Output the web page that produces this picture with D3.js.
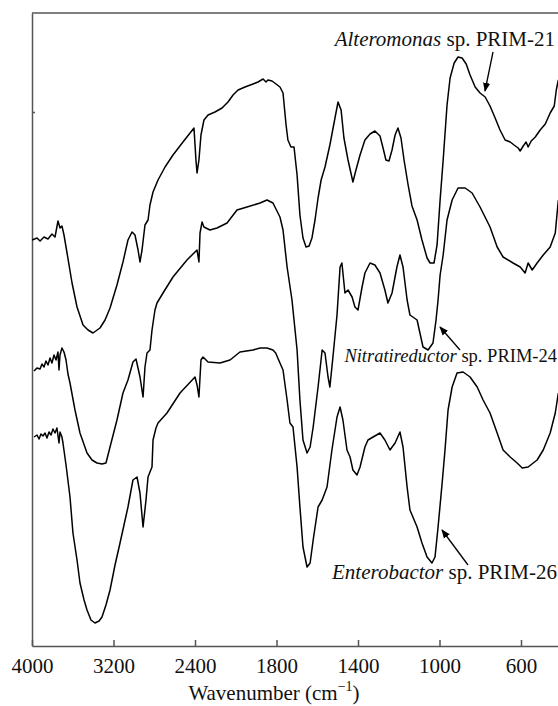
<!DOCTYPE html>
<html>
<head>
<meta charset="utf-8">
<script src="https://cdn.jsdelivr.net/npm/d3@7"></script>
<style>
  body { margin: 0; background: #fff; }
  svg { display: block; }
  svg text { font-family: "Liberation Serif", "Times New Roman", "DejaVu Serif", serif; }
</style>
</head>
<body>
<div id="chart"></div>
<script>
// wavenumber (cm-1) tick labels of the bottom axis
const xTicks = [4000, 3200, 2400, 1800, 1400, 1000, 600];

// transmittance in arbitrary units (offset traces)
const alteromonas = [
  [4000,406],[3951,408],[3921,405],[3882,409],[3843,407],[3804,412],[3774,409],[3745,425],
  [3725,418],[3706,420],[3686,411],[3656,393],[3607,363],[3558,339],[3499,321],[3450,316],
  [3401,313],[3333,318],[3283,326],[3234,338],[3166,361],[3107,384],[3058,406],[3018,414],
  [2989,411],[2959,396],[2940,384],[2920,396],[2891,421],[2861,426],[2842,441],[2812,454],
  [2763,466],[2694,479],[2616,491],[2518,504],[2410,518],[2393,486],[2385,473],[2371,486],
  [2356,511],[2334,526],[2304,531],[2253,534],[2201,538],[2157,544],[2120,551],[2083,556],
  [2032,559],[1973,562],[1936,564],[1899,567],[1877,564],[1863,566],[1833,565],[1803,562],
  [1783,559],[1768,553],[1753,521],[1744,506],[1729,499],[1714,499],[1699,471],[1685,431],
  [1670,408],[1655,399],[1640,400],[1626,408],[1611,426],[1596,448],[1581,466],[1562,479],
  [1538,501],[1513,528],[1498,544],[1483,536],[1469,508],[1449,486],[1425,464],[1410,476],
  [1390,491],[1366,506],[1341,512],[1317,515],[1292,510],[1277,498],[1263,486],[1248,485],
  [1233,496],[1218,511],[1204,518],[1189,508],[1174,486],[1154,461],[1135,440],[1110,426],
  [1086,406],[1061,388],[1046,383],[1027,383],[1012,401],[997,446],[982,486],[963,541],
  [948,568],[928,583],[909,589],[889,588],[869,582],[850,571],[825,559],[801,553],
  [776,549],[752,540],[727,528],[703,516],[678,506],[653,504],[634,501],[614,498],
  [604,495],[589,500],[575,504],[565,499],[550,505],[530,509],[506,516],[481,522],
  [457,533],[437,540],[427,556],[417,566]
];

const nitratireductor = [
  [3980,275],[3951,278],[3921,277],[3902,282],[3882,279],[3863,285],[3843,281],[3823,288],
  [3804,283],[3784,291],[3764,286],[3745,294],[3735,276],[3725,291],[3706,298],[3686,294],
  [3666,286],[3647,272],[3627,263],[3578,236],[3529,213],[3460,193],[3411,186],[3362,183],
  [3313,182],[3274,183],[3234,199],[3166,226],[3107,253],[3058,266],[3009,284],[2979,287],
  [2940,269],[2910,249],[2891,279],[2871,293],[2842,296],[2822,316],[2793,336],[2773,343],
  [2714,353],[2616,369],[2479,386],[2385,396],[2371,384],[2363,413],[2348,424],[2334,419],
  [2290,416],[2238,418],[2164,423],[2091,436],[2017,439],[1921,443],[1870,446],[1826,443],
  [1783,429],[1768,416],[1748,379],[1724,346],[1709,316],[1699,296],[1685,246],[1670,206],
  [1650,193],[1635,199],[1620,219],[1596,259],[1576,296],[1562,293],[1547,269],[1538,259],
  [1523,289],[1503,331],[1488,379],[1479,383],[1464,353],[1449,356],[1429,349],[1415,339],
  [1400,336],[1380,359],[1366,373],[1341,383],[1317,381],[1292,373],[1268,356],[1253,343],
  [1233,353],[1209,379],[1194,391],[1179,379],[1159,346],[1145,331],[1110,326],[1096,313],
  [1081,299],[1056,296],[1032,303],[1017,326],[1007,346],[997,371],[982,391],[963,426],
  [938,446],[909,458],[874,458],[840,453],[801,439],[752,419],[717,399],[688,389],
  [639,383],[604,379],[580,373],[565,383],[545,376],[521,383],[491,391],[457,399],
  [432,413],[417,446]
];

const enterobactor = [
  [3980,209],[3951,211],[3931,207],[3912,212],[3892,210],[3872,213],[3853,208],[3833,214],
  [3813,211],[3794,217],[3774,213],[3755,218],[3735,203],[3725,214],[3706,209],[3696,203],
  [3666,181],[3627,149],[3598,113],[3558,86],[3529,63],[3489,46],[3460,36],[3421,26],
  [3382,23],[3342,25],[3313,29],[3274,41],[3234,56],[3185,81],[3136,103],[3097,121],
  [3058,139],[3009,166],[2969,169],[2940,153],[2910,119],[2881,146],[2861,169],[2842,174],
  [2822,179],[2812,206],[2783,218],[2763,223],[2675,233],[2547,253],[2400,269],[2385,261],
  [2371,249],[2356,286],[2341,289],[2304,284],[2216,283],[2142,286],[2069,294],[1973,296],
  [1921,298],[1870,298],[1826,296],[1806,293],[1783,283],[1768,276],[1748,246],[1734,223],
  [1719,219],[1699,179],[1685,139],[1670,99],[1650,79],[1635,83],[1620,106],[1596,139],
  [1576,146],[1552,159],[1528,196],[1503,229],[1488,239],[1474,226],[1454,196],[1439,189],
  [1425,176],[1405,171],[1390,179],[1366,199],[1351,206],[1326,209],[1292,213],[1268,206],
  [1243,196],[1218,203],[1194,214],[1179,199],[1159,159],[1145,136],[1110,119],[1086,103],
  [1061,89],[1037,83],[1022,89],[1007,119],[987,163],[973,196],[958,236],[938,259],
  [914,273],[884,274],[850,269],[815,259],[786,246],[752,233],[717,213],[688,196],
  [653,189],[619,183],[594,178],[565,179],[540,183],[521,186],[491,196],[457,213],
  [432,233],[417,253]
];

const series = [alteromonas, nitratireductor, enterobactor];

const width = 558, height = 706;
const marginLeft = 32, plotTop = 13, plotBottom = 646;

// the wavenumber axis is compressed above 2400 and stretched below 1800
const x = d3.scaleLinear()
    .domain([4000, 3200, 2400, 1800, 1400, 1000, 600, 400])
    .range([32, 113.5, 195, 276.5, 358, 439.5, 521, 561.8]);

const y = d3.scaleLinear()
    .domain([0, 633])
    .range([plotBottom, plotTop]);

const svg = d3.select("#chart").append("svg")
    .attr("width", width)
    .attr("height", height)
    .attr("fill", "#000");

const defs = svg.append("defs");

defs.append("clipPath")
    .attr("id", "plot-clip")
  .append("rect")
    .attr("x", marginLeft)
    .attr("y", plotTop)
    .attr("width", width - marginLeft)
    .attr("height", plotBottom - plotTop);

defs.append("marker")
    .attr("id", "arrow")
    .attr("viewBox", "0 0 10 10")
    .attr("refX", 9)
    .attr("refY", 5)
    .attr("markerWidth", 9)
    .attr("markerHeight", 9)
    .attr("markerUnits", "userSpaceOnUse")
    .attr("orient", "auto")
  .append("path")
    .attr("d", "M0,1 L10,5 L0,9 z")
    .attr("fill", "#000");

// frame: top line and left axis
svg.append("line")
    .attr("x1", marginLeft).attr("x2", width)
    .attr("y1", plotTop).attr("y2", plotTop)
    .attr("stroke", "#555").attr("stroke-width", 1.5);

svg.append("g")
    .attr("transform", `translate(${marginLeft},0)`)
    .call(d3.axisLeft(y).tickValues([534]).tickSizeInner(-3).tickSizeOuter(0).tickFormat(""))
    .call(g => g.selectAll("path, line").attr("stroke", "#555").attr("stroke-width", 1.5));

const xAxis = svg.append("g")
    .attr("transform", `translate(0,${plotBottom})`)
    .call(d3.axisBottom(x)
      .tickValues(xTicks)
      .tickFormat(d3.format("d"))
      .tickSizeInner(-6)
      .tickSizeOuter(0)
      .tickPadding(12));

xAxis.selectAll("path, line").attr("stroke", "#555").attr("stroke-width", 1.5);
xAxis.selectAll("text")
    .attr("font-size", 21)
    .attr("fill", "#111");

const title = svg.append("text")
    .attr("x", 274)
    .attr("y", 700)
    .attr("text-anchor", "middle")
    .attr("font-size", 21)
    .attr("fill", "#111");
title.append("tspan").text("Wavenumber (cm");
title.append("tspan").attr("dy", -9).attr("font-size", 14).text("\u22121");
title.append("tspan").attr("dy", 9).text(")");

// spectra
const line = d3.line()
    .x(d => x(d[0]))
    .y(d => y(d[1]));

svg.append("g")
    .attr("clip-path", "url(#plot-clip)")
  .selectAll("path")
  .data(series)
  .join("path")
    .attr("d", line)
    .attr("fill", "none")
    .attr("stroke", "#000")
    .attr("stroke-width", 1.5)
    .attr("stroke-linejoin", "round");

// labels with arrows
const labels = [
  {genus: "Alteromonas", rest: " sp. PRIM-21", x: 555, y: 46, size: 21, from: [493, 52], to: [485, 91]},
  {genus: "Nitratireductor", rest: " sp. PRIM-24", x: 557, y: 362, size: 18.5, from: [460, 350], to: [440, 327]},
  {genus: "Enterobactor", rest: " sp. PRIM-26", x: 557, y: 579, size: 21, from: [468, 565], to: [442, 530]}
];

labels.forEach(l => {
  const t = svg.append("text")
      .attr("x", l.x)
      .attr("y", l.y)
      .attr("text-anchor", "end")
      .attr("font-size", l.size)
      .attr("fill", "#111");
  t.append("tspan").attr("font-style", "italic").text(l.genus);
  t.append("tspan").text(l.rest);

  svg.append("line")
      .attr("x1", l.from[0]).attr("y1", l.from[1])
      .attr("x2", l.to[0]).attr("y2", l.to[1])
      .attr("stroke", "#000")
      .attr("stroke-width", 1.3)
      .attr("marker-end", "url(#arrow)");
});
</script>
</body>
</html>
